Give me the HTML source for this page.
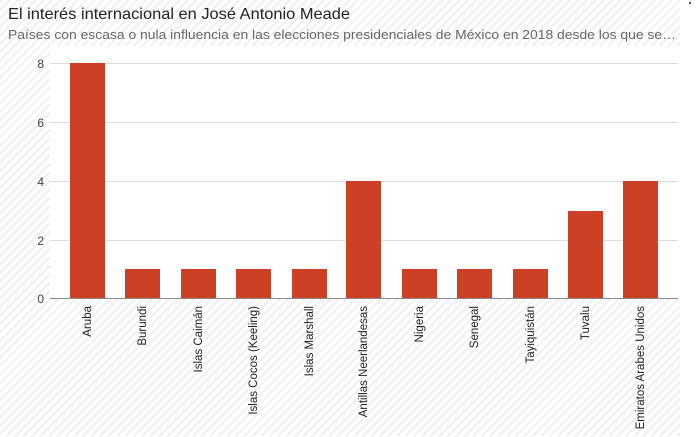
<!DOCTYPE html>
<html><head><meta charset="utf-8"><style>
html,body{margin:0;padding:0;background:#fff;}
svg{display:block;font-family:"Liberation Sans",sans-serif;}
</style></head><body>
<svg width="700" height="437" xmlns="http://www.w3.org/2000/svg">
<defs>
<pattern id="h" width="6" height="6" patternUnits="userSpaceOnUse" patternTransform="rotate(45)">
<rect width="6" height="6" fill="#ffffff"/>
<rect width="2" height="6" fill="#f0f0f0"/>
</pattern>
</defs>
<rect x="0" y="0" width="680" height="436" fill="url(#h)"/>
<rect x="50" y="46" width="630" height="253" fill="#fff"/>
<circle cx="690" cy="3" r="1.2" fill="#555"/>
<text x="8" y="19" font-size="16" fill="#222" textLength="342" lengthAdjust="spacingAndGlyphs">El interés internacional en José Antonio Meade</text>
<text x="8" y="39" font-size="13" fill="#666" textLength="668" lengthAdjust="spacingAndGlyphs">Países con escasa o nula influencia en las elecciones presidenciales de México en 2018 desde los que se…</text>
<g stroke="#ddd" stroke-width="1">
<line x1="50" x2="678" y1="63.5" y2="63.5"/>
<line x1="50" x2="678" y1="122.5" y2="122.5"/>
<line x1="50" x2="678" y1="181.5" y2="181.5"/>
<line x1="50" x2="678" y1="240.5" y2="240.5"/>
</g>
<g font-size="12" fill="#444" text-anchor="end">
<text x="44" y="68">8</text><text x="44" y="127">6</text><text x="44" y="186">4</text><text x="44" y="245">2</text><text x="44" y="303">0</text>
</g>
<g fill="#cc4125">
<rect x="70" y="63" width="35" height="235"/>
<rect x="125" y="269" width="35" height="29"/>
<rect x="181" y="269" width="35" height="29"/>
<rect x="236" y="269" width="35" height="29"/>
<rect x="292" y="269" width="35" height="29"/>
<rect x="346" y="181" width="35" height="117"/>
<rect x="402" y="269" width="35" height="29"/>
<rect x="457" y="269" width="35" height="29"/>
<rect x="513" y="269" width="35" height="29"/>
<rect x="568" y="211" width="35" height="87"/>
<rect x="623" y="181" width="35" height="117"/>
</g>
<line x1="50" x2="678" y1="298.5" y2="298.5" stroke="#888" stroke-width="1"/>
<g font-size="11.5" fill="#222" text-anchor="end">
<text transform="translate(91,306) rotate(-90)">Aruba</text>
<text transform="translate(146,306) rotate(-90)">Burundi</text>
<text transform="translate(202,306) rotate(-90)">Islas Caimán</text>
<text transform="translate(257,306) rotate(-90)">Islas Cocos (Keeling)</text>
<text transform="translate(313,306) rotate(-90)">Islas Marshall</text>
<text transform="translate(367,306) rotate(-90)">Antillas Neerlandesas</text>
<text transform="translate(423,306) rotate(-90)">Nigeria</text>
<text transform="translate(478,306) rotate(-90)">Senegal</text>
<text transform="translate(534,306) rotate(-90)">Tayiquistán</text>
<text transform="translate(589,306) rotate(-90)">Tuvalu</text>
<text transform="translate(644,306) rotate(-90)">Emiratos Arabes Unidos</text>
</g>
</svg>
</body></html>
